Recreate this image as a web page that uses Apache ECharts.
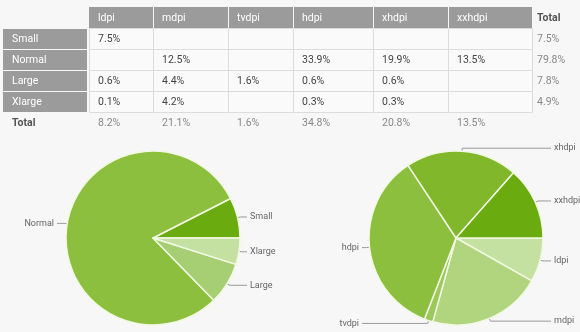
<!DOCTYPE html>
<html>
<head>
<meta charset="utf-8">
<script src="https://cdn.jsdelivr.net/npm/echarts@6/dist/echarts.min.js"></script>
<style>
  html, body { margin: 0; padding: 0; background: #f7f7f7; }
  #chart { width: 580px; height: 332px; }
</style>
</head>
<body>
<div id="chart"></div>
<script>
// Screen sizes (rows) and densities (columns)
const sizes = ['Small', 'Normal', 'Large', 'Xlarge'];
const densities = ['ldpi', 'mdpi', 'tvdpi', 'hdpi', 'xhdpi', 'xxhdpi'];

// Share of devices per size/density cell (null = empty cell)
const smallRow  = [7.5, null, null, null, null, null];
const normalRow = [null, 12.5, null, 33.9, 19.9, 13.5];
const largeRow  = [0.6, 4.4, 1.6, 0.6, 0.6, null];
const xlargeRow = [0.1, 4.2, null, 0.3, 0.3, null];

// Totals per size and per density
const sizeTotals = [7.5, 79.8, 7.8, 4.9];
const densityTotals = [8.2, 21.1, 1.6, 34.8, 20.8, 13.5];

const totalLabel = 'Total';

// Colours
const sizeColors = ['#6aab10', '#8dbf3f', '#a6ce72', '#c5e1a2'];
const densityColors = ['#c5e1a2', '#b1d57f', '#9cc85c', '#8dbf3f', '#80b72b', '#6aab10'];

// ---- table layout ----
const rows = [smallRow, normalRow, largeRow, xlargeRow];
const colX = [89, 153, 228, 293, 373, 448, 532];
const rowY = [7, 28, 49, 70, 91, 112, 133];
const headLeft = 3, headRight = 87, pad = 9, totalX = 537;
const fontFam = 'Roboto, "Noto Sans", sans-serif';
const fmt = v => v.toFixed(1) + '%';

const g = [];
function txt(x, y, s, color, weight) {
  g.push({ type: 'text', x: x, y: y, silent: true,
    style: { text: s, fill: color, font: (weight || 'normal') + ' 10.5px ' + fontFam,
             verticalAlign: 'middle', align: 'left' } });
}
function rect(x, y, w, h, fill, stroke) {
  g.push({ type: 'rect', silent: true, shape: { x: x, y: y, width: w, height: h },
    style: { fill: fill, stroke: stroke || null, lineWidth: stroke ? 1 : 0 } });
}

// data cells
for (let r = 0; r < rows.length; r++) {
  for (let c = 0; c < densities.length; c++) {
    rect(colX[c] + 0.5, rowY[r + 1] + 0.5, colX[c + 1] - colX[c], rowY[r + 2] - rowY[r + 1], '#fafafa', '#dcdcdc');
  }
}
// header cells
for (let c = 0; c < densities.length; c++) {
  rect(colX[c] + (c ? 1 : 0), rowY[0], colX[c + 1] - colX[c] - (c ? 1 : 0), rowY[1] - rowY[0], '#9b9b9b');
}
// row header cells
for (let r = 0; r < sizes.length; r++) {
  rect(headLeft, rowY[r + 1] + 1, headRight - headLeft, rowY[r + 2] - rowY[r + 1] - 1, '#9b9b9b');
}
// text
for (let c = 0; c < densities.length; c++) {
  txt(colX[c] + pad, (rowY[0] + rowY[1]) / 2 + 1, densities[c], '#ffffff');
}
txt(totalX, (rowY[0] + rowY[1]) / 2 + 1, totalLabel, '#555555', 'bold');
for (let r = 0; r < sizes.length; r++) {
  const cy = (rowY[r + 1] + rowY[r + 2]) / 2 + 1;
  txt(headLeft + pad, cy, sizes[r], '#ffffff');
  rows[r].forEach((v, c) => { if (v !== null) txt(colX[c] + pad, cy, fmt(v), '#444444'); });
  txt(totalX, cy, fmt(sizeTotals[r]), '#888888');
}
const ty = (rowY[5] + rowY[6]) / 2 + 1;
txt(headLeft + pad, ty, totalLabel, '#555555', 'bold');
densityTotals.forEach((v, c) => txt(colX[c] + pad, ty, fmt(v), '#888888'));

// ---- pies ----
// Label lines run horizontally out to a fixed column on each side of a pie.
function columnLabels(cx, leftEnd, rightEnd) {
  return function (params) {
    const pts = params.labelLinePoints;
    if (!pts) return {};
    const p0 = pts[0], p1 = pts[1];
    const right = p0[0] >= cx;
    const endX = right ? rightEnd : leftEnd;
    return {
      x: right ? endX + 3 : endX - 3,
      y: p1[1],
      align: right ? 'left' : 'right',
      verticalAlign: 'middle',
      labelLinePoints: [p0, p1, [endX, p1[1]]]
    };
  };
}

const pieBase = {
  type: 'pie',
  radius: 87,
  startAngle: 0,
  animation: false,
  silent: true,
  itemStyle: { borderColor: '#f2f9e2', borderWidth: 1.5 },
  label: {
    show: true, position: 'outside', color: '#666666',
    fontSize: 9, fontFamily: fontFam, distanceToLabelLine: 3, overflow: 'none'
  },
  labelLine: { show: true, length: 3, length2: 8, lineStyle: { color: '#999999', width: 1 } },
  emphasis: { disabled: true }
};

const chart = echarts.init(document.getElementById('chart'), null, { renderer: 'canvas' });
chart.setOption({
  backgroundColor: '#f7f7f7',
  graphic: { elements: g },
  series: [
    Object.assign({}, pieBase, {
      center: [153, 238], clockwise: false,
      labelLayout: columnLabels(153, 57, 247),
      data: sizes.map((n, i) => ({ name: n, value: sizeTotals[i], itemStyle: { color: sizeColors[i] } }))
    }),
    Object.assign({}, pieBase, {
      center: [456, 238], clockwise: true,
      labelLayout: columnLabels(456, 362, 551),
      data: densities.map((n, i) => ({ name: n, value: densityTotals[i], itemStyle: { color: densityColors[i] } }))
    })
  ]
});
</script>
</body>
</html>
